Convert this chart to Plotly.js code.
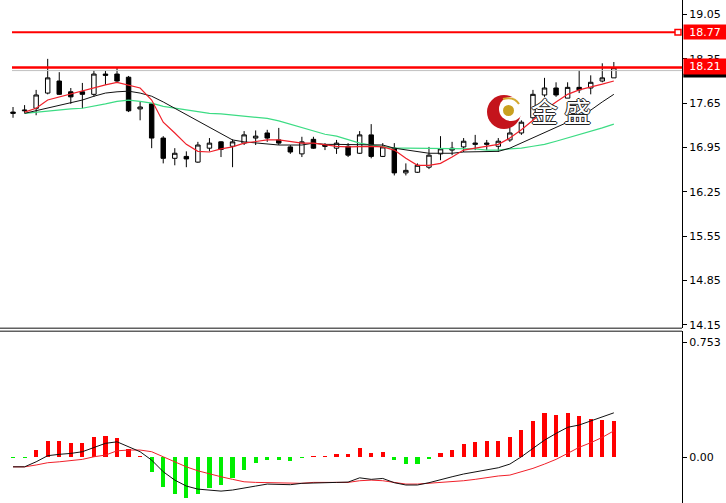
<!DOCTYPE html>
<html>
<head>
<meta charset="utf-8">
<script src="https://cdn.plot.ly/plotly-3.0.1.min.js"></script>
<style>html,body{margin:0;padding:0;background:#fff;}#chart{width:726px;height:503px;}</style>
</head>
<body>
<div id="chart"></div>
<script>
// ---- data ----
const openP  = [17.51,17.53,17.57,17.81,18.00,17.83,17.83,17.79,18.11,18.11,18.06,17.56,17.64,17.10,16.78,16.81,16.72,16.94,17.04,16.97,17.02,17.10,17.18,17.07,16.96,16.85,17.08,16.99,16.94,16.97,16.86,17.15,16.81,16.94,16.55,16.56,16.64,16.85,16.91,16.96,17.00,17.00,16.97,17.07,17.18,17.42,17.78,17.89,17.73,17.90,17.89,18.00,18.05];
const highP  = [17.59,17.62,17.86,18.35,18.14,17.89,17.97,18.17,18.16,18.21,18.08,17.67,17.65,17.13,16.94,16.89,17.04,17.10,17.05,17.08,17.21,17.22,17.23,17.26,16.99,17.12,17.12,17.02,17.07,17.02,17.21,17.32,17.02,17.02,16.70,16.70,16.96,17.13,17.04,17.10,17.15,17.07,17.10,17.26,17.38,17.86,18.05,17.98,17.98,18.17,18.09,18.28,18.30];
const lowP   = [17.42,17.49,17.46,17.79,17.78,17.64,17.57,17.75,17.94,17.98,17.51,17.38,16.94,16.70,16.67,16.64,16.71,16.89,16.80,16.64,16.99,16.99,17.04,16.99,16.85,16.80,16.93,16.91,16.85,16.80,16.85,16.78,16.80,16.51,16.51,16.55,16.61,16.75,16.83,16.88,16.91,16.91,16.88,17.04,17.15,17.38,17.75,17.75,17.73,17.81,17.79,17.98,18.05];
const closeP = [17.49,17.54,17.78,18.05,17.79,17.75,17.79,18.11,18.09,18.00,17.53,17.59,17.10,16.78,16.86,16.77,16.99,17.02,16.92,17.04,17.15,17.13,17.10,17.02,16.88,17.04,16.94,16.97,17.02,16.83,17.15,16.81,16.96,16.55,16.59,16.67,16.83,16.93,16.94,17.05,17.02,17.02,17.05,17.18,17.35,17.79,17.89,17.78,17.90,17.86,17.98,18.05,18.21];

const maFast = [null,17.51,17.57,17.70,17.75,17.79,17.84,17.89,17.94,17.98,17.94,17.89,17.70,17.35,17.18,17.00,16.89,16.88,16.93,16.96,17.02,17.04,17.07,17.07,17.04,17.02,17.02,16.99,16.97,16.96,16.97,16.97,16.96,16.91,16.78,16.67,16.67,16.70,16.80,16.91,16.94,16.97,17.00,17.10,17.23,17.38,17.54,17.67,17.79,17.86,17.90,17.95,18.00];
const maMid  = [null,17.49,17.53,17.57,17.62,17.65,17.70,17.76,17.81,17.83,17.84,17.81,17.76,17.67,17.57,17.46,17.37,17.26,17.16,17.07,17.04,17.02,17.00,16.99,16.99,16.99,17.02,17.00,17.00,17.00,17.00,17.00,16.99,16.94,16.91,16.88,16.86,16.86,16.86,16.88,16.88,16.88,16.89,16.94,17.02,17.11,17.19,17.27,17.35,17.46,17.54,17.67,17.79];
const maSlow = [null,17.49,17.51,17.53,17.54,17.56,17.57,17.60,17.64,17.68,17.70,17.68,17.65,17.60,17.57,17.54,17.51,17.49,17.48,17.46,17.45,17.43,17.41,17.37,17.32,17.26,17.21,17.16,17.13,17.08,17.02,16.99,16.96,16.94,16.94,16.94,16.94,16.94,16.94,16.93,16.93,16.91,16.91,16.93,16.94,16.97,17.00,17.05,17.10,17.15,17.21,17.26,17.32];

const macdHist = [-0.008,-0.008,0.045,0.105,0.105,0.092,0.092,0.133,0.138,0.128,0.050,0.008,-0.098,-0.196,-0.240,-0.270,-0.240,-0.205,-0.180,-0.140,-0.085,-0.040,-0.020,-0.020,-0.025,-0.008,0.008,0.008,0.020,0.020,0.057,0.030,0.035,-0.020,-0.046,-0.046,-0.010,0.028,0.046,0.083,0.096,0.107,0.107,0.133,0.177,0.236,0.286,0.275,0.286,0.269,0.249,0.242,0.236];
const macdLine = [-0.064,-0.064,-0.031,0.009,0.018,0.024,0.035,0.064,0.090,0.100,0.067,0.035,-0.020,-0.096,-0.151,-0.190,-0.210,-0.216,-0.223,-0.216,-0.205,-0.190,-0.177,-0.177,-0.181,-0.172,-0.168,-0.168,-0.166,-0.164,-0.136,-0.146,-0.140,-0.168,-0.183,-0.183,-0.168,-0.151,-0.129,-0.111,-0.096,-0.085,-0.070,-0.046,0.002,0.057,0.111,0.155,0.195,0.210,0.238,0.264,0.290];
const macdSignal = [-0.064,-0.064,-0.052,-0.037,-0.031,-0.024,-0.015,0.002,0.013,0.041,0.046,0.046,0.035,0.002,-0.031,-0.064,-0.090,-0.111,-0.129,-0.146,-0.162,-0.166,-0.168,-0.172,-0.172,-0.172,-0.166,-0.166,-0.166,-0.166,-0.155,-0.151,-0.155,-0.168,-0.177,-0.177,-0.172,-0.168,-0.162,-0.155,-0.146,-0.133,-0.124,-0.118,-0.096,-0.074,-0.046,-0.015,0.024,0.064,0.094,0.129,0.172];

const priceTicks = [14.15,14.85,15.55,16.25,16.95,17.65,18.35,19.05];
const macdTicks = [0, 0.753];
const macdTickText = ['0.00','0.753'];
const levelHigh = 18.77;
const levelBid = 18.21;
const logoText = '金 盛';

// ---- chart ----
const idx = openP.map((_, i) => i);
const W = 682, H = 503;
const px = v => v / W;
const py = v => 1 - v / H;
const FONT = 'DejaVu Sans';

const traces = [
  {type:'candlestick', x: idx, open: openP, high: highP, low: lowP, close: closeP,
   xaxis:'x', yaxis:'y', whiskerwidth: 0, hoverinfo:'skip',
   increasing:{line:{color:'#000', width:1}, fillcolor:'#ffffff'},
   decreasing:{line:{color:'#000', width:1}, fillcolor:'#000000'}},
  {type:'scatter', mode:'lines', x: idx, y: maSlow, line:{color:'#3cdc84', width:1.2}, xaxis:'x', yaxis:'y', hoverinfo:'skip'},
  {type:'scatter', mode:'lines', x: idx, y: maMid, line:{color:'#111', width:1}, xaxis:'x', yaxis:'y', hoverinfo:'skip'},
  {type:'scatter', mode:'lines', x: idx, y: maFast, line:{color:'#f0202a', width:1.2}, xaxis:'x', yaxis:'y', hoverinfo:'skip'},
  {type:'bar', x: idx, y: macdHist, width: 0.36, xaxis:'x', yaxis:'y2', hoverinfo:'skip',
   marker:{color: macdHist.map(v => v >= 0 ? '#ff0000' : '#00ee00'), line:{width:0}}},
  {type:'scatter', mode:'lines', x: idx, y: macdSignal, line:{color:'#f0202a', width:1}, xaxis:'x', yaxis:'y2', hoverinfo:'skip'},
  {type:'scatter', mode:'lines', x: idx, y: macdLine, line:{color:'#111', width:1}, xaxis:'x', yaxis:'y2', hoverinfo:'skip'}
];

const shapes = [
  // logo (watermark)
  {type:'circle', xref:'paper', yref:'paper', x0:px(487), x1:px(521), y0:py(129), y1:py(95), fillcolor:'#c4141c', line:{width:0}, layer:'below'},
  {type:'circle', xref:'paper', yref:'paper', x0:px(499), x1:px(523), y0:py(121), y1:py(97), fillcolor:'#ffffff', line:{width:0}, layer:'below'},
  {type:'circle', xref:'paper', yref:'paper', x0:px(503), x1:px(514), y0:py(116), y1:py(105), fillcolor:'#c9a020', line:{width:0}, layer:'below'},
  {type:'path', xref:'paper', yref:'paper', layer:'below', line:{color:'#d4aa30', width:2},
   path:'M '+px(503)+' '+py(99)+' Q '+px(514)+' '+py(96)+' '+px(519)+' '+py(104)},
  // level lines
  {type:'line', xref:'paper', yref:'y', x0:px(12), x1:px(676), y0:levelHigh, y1:levelHigh, line:{color:'#ff0000', width:2}},
  {type:'rect', xref:'paper', yref:'y', x0:px(675), x1:px(681), y0:levelHigh-0.045, y1:levelHigh+0.045, fillcolor:'#ffffff', line:{color:'#ff0000', width:1.5}},
  {type:'line', xref:'paper', yref:'y', x0:px(12), x1:1, y0:levelBid-0.045, y1:levelBid-0.045, line:{color:'#c0c0c0', width:1}},
  {type:'line', xref:'paper', yref:'y', x0:px(12), x1:1, y0:levelBid+0.005, y1:levelBid+0.005, line:{color:'#ff0000', width:2.5}},
  // black strip under the bid label
  {type:'rect', xref:'paper', yref:'y', x0:1.002, x1:726/W, y0:levelBid-0.155, y1:levelBid-0.095, fillcolor:'#000', line:{width:0}},
  // panel separator (double line)
  {type:'line', xref:'paper', yref:'paper', x0:0, x1:1, y0:py(328.3), y1:py(328.3), line:{color:'#606060', width:1.6}},
  {type:'line', xref:'paper', yref:'paper', x0:0, x1:1, y0:py(331.2), y1:py(331.2), line:{color:'#606060', width:1.6}}
];

const annotations = [
  {xref:'paper', yref:'y', x:1, y:levelHigh, xanchor:'left', yanchor:'middle', xshift:1, showarrow:false,
   text:levelHigh.toFixed(2), bgcolor:'#ff0000', font:{family:FONT, size:11, color:'#ffffff'}, width:40, height:12, borderpad:1},
  {xref:'paper', yref:'y', x:1, y:levelBid, xanchor:'left', yanchor:'middle', xshift:1, yshift:1.5, showarrow:false,
   text:levelBid.toFixed(2), bgcolor:'#ff0000', font:{family:FONT, size:11, color:'#ffffff'}, width:40, height:13, borderpad:1},
  {xref:'paper', yref:'paper', x:px(561), y:py(110), xanchor:'center', yanchor:'middle', showarrow:false,
   text:logoText, font:{family:'Noto Sans CJK SC', size:27, color:'#ffffff',
   shadow:'1px 0 0 #222, -1px 0 0 #222, 0 1px 0 #222, 0 -1px 0 #222'}}
];

const layout = {
  width: 726, height: 503,
  margin:{l:0, r:44, t:0, b:0, pad:0},
  paper_bgcolor:'#ffffff', plot_bgcolor:'rgba(0,0,0,0)',
  showlegend:false, hovermode:false, bargap:0,
  boxgap:0.45,
  xaxis:{domain:[0,1], range:[-1.128, 57.9], visible:false, showgrid:false, zeroline:false, rangeslider:{visible:false}},
  yaxis:{domain:[py(328.3), 1], range:[14.097, 19.279], side:'right', anchor:'x',
    tickvals: priceTicks, ticktext: priceTicks.map(v => v.toFixed(2)),
    showgrid:false, zeroline:false, showline:true, linecolor:'#000', linewidth:1,
    ticks:'outside', ticklen:4, tickcolor:'#000', tickfont:{family:FONT, size:11, color:'#000'}},
  yaxis2:{domain:[0, py(331.2)], range:[-0.301, 0.825], side:'right', anchor:'x',
    tickvals: macdTicks, ticktext: macdTickText,
    showgrid:false, zeroline:false, showline:true, linecolor:'#000', linewidth:1,
    ticks:'outside', ticklen:4, tickcolor:'#000', tickfont:{family:FONT, size:11, color:'#000'}},
  shapes: shapes,
  annotations: annotations
};

Plotly.newPlot('chart', traces, layout, {staticPlot:true, displayModeBar:false});
</script>
</body>
</html>
